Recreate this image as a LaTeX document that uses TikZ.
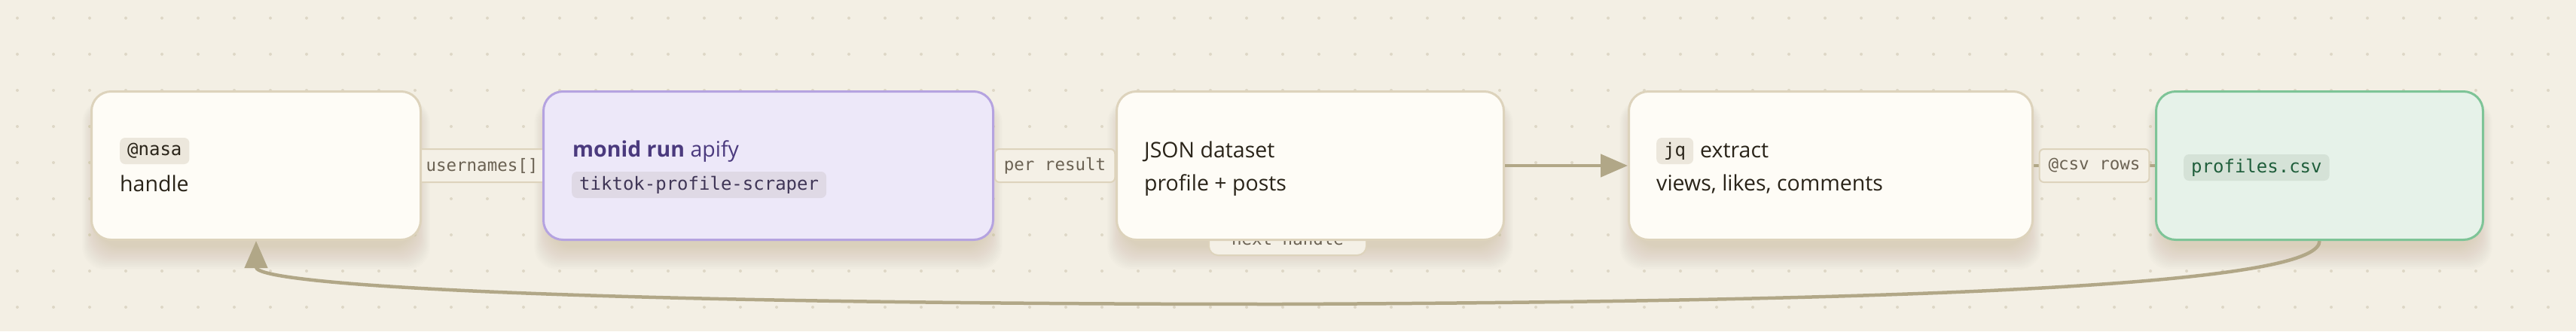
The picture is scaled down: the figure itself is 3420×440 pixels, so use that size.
\documentclass[tikz,border=0pt]{standalone}
\usepackage{fontspec}
\setmainfont{Open Sans}
\setmonofont{DejaVu Sans Mono}
\usetikzlibrary{arrows.meta,calc}
\pgfdeclarelayer{gridlayer}
\pgfdeclarelayer{shadowlayer}
\pgfdeclarelayer{edgelayer}
\pgfsetlayers{gridlayer,shadowlayer,edgelayer,main}
\definecolor{bgc}{HTML}{F3EFE4}
\definecolor{dotc}{HTML}{DED7C6}
\definecolor{cardfill}{HTML}{FEFCF6}
\definecolor{cardline}{HTML}{DDD3BC}
\definecolor{shadowc}{HTML}{6B5A35}
\definecolor{purfill}{HTML}{EDE8F9}
\definecolor{purline}{HTML}{B5A3E0}
\definecolor{purtext}{HTML}{4B3A7E}
\definecolor{purchip}{HTML}{DFD9E5}
\definecolor{purchiptext}{HTML}{3F3556}
\definecolor{grnfill}{HTML}{E6F2E9}
\definecolor{grnline}{HTML}{7EC497}
\definecolor{grnchip}{HTML}{D5E2D7}
\definecolor{grntext}{HTML}{1F5E3B}
\definecolor{creamchip}{HTML}{ECE7DC}
\definecolor{maintext}{HTML}{2A2419}
\definecolor{lbltext}{HTML}{6B6253}
\definecolor{lblfill}{HTML}{F4F0E6}
\definecolor{flowc}{HTML}{B1A787}
\newcommand\cardshadow[1]{%
  \foreach \s in {0,...,19}{%
    \fill[shadowc,opacity=0.0075,rounded corners=30pt]
      ($(#1.north west)+(10-1.1*\s,20-0.4*\s)$) rectangle ($(#1.south east)+(1.1*\s-10,8+1.6*\s)$);
  }}
\begin{document}
\begin{tikzpicture}[x=1pt,y=-1pt,
  card/.style={draw=cardline,fill=cardfill,line width=3pt,rounded corners=26pt,minimum height=197pt,inner sep=0pt},
  purcard/.style={card,draw=purline,fill=purfill},
  grncard/.style={card,draw=grnline,fill=grnfill},
  body/.style={anchor=base west,inner sep=0pt,text=maintext,font=\fontsize{28.5}{33}\selectfont},
  chip/.style={anchor=west,fill=creamchip,rounded corners=7pt,inner xsep=10pt,inner ysep=0pt,minimum height=35pt,text=maintext,font=\fontsize{24}{28}\ttfamily},
  lbl/.style={fill=lblfill,draw=cardline,line width=2pt,rounded corners=6pt,inner xsep=12pt,inner ysep=0pt,minimum height=44pt,text=lbltext,font=\fontsize{22.5}{26}\ttfamily},
  flow/.style={draw=flowc,line width=4.5pt},
  tip/.style={-{Triangle[length=36pt,width=30pt]}}
]
\useasboundingbox (0,0) rectangle (3420,440);
\begin{pgfonlayer}{gridlayer}
\fill[bgc] (0,0) rectangle (3420,440);
\foreach \x in {23,71,...,3420}{\foreach \y in {24,72,...,440}{\fill[dotc] (\x,\y) circle (2pt);}}
\end{pgfonlayer}

% cards
\node[card,minimum width=437pt] (n1) at (340,220) {};
\node[purcard,minimum width=597pt] (n2) at (1020,220) {};
\node[card,minimum width=514pt] (n3) at (1739.5,220) {};
\node[card,minimum width=536pt] (n4) at (2430.5,220) {};
\node[grncard,minimum width=434pt] (n5) at (3079.5,220) {};

\begin{pgfonlayer}{shadowlayer}
\cardshadow{n1}\cardshadow{n2}\cardshadow{n3}\cardshadow{n4}\cardshadow{n5}
\end{pgfonlayer}

% card contents
\node[chip] (c1) at (159,200.5) {@nasa};
\node[body] (t1) at (159,254) {handle};
\node[body,text=purtext] (t2) at (760,208) {\textbf{monid run} apify};
\node[chip,fill=purchip,text=purchiptext] (c2) at (759,245.5) {tiktok-profile-scraper};
\node[body] (t3a) at (1519,209) {JSON dataset};
\node[body] (t3b) at (1519,253) {profile + posts};
\node[chip] (c4) at (2199,200.5) {jq};
\node[body] (t4a) at (2257,209) {extract};
\node[body] (t4b) at (2199,253) {views, likes, comments};
\node[chip,fill=grnchip,text=grntext] (c5) at (2899,222.5) {profiles.csv};

% connectors
\begin{pgfonlayer}{edgelayer}
\draw[flow] (n1) -- node[lbl] (l1) {usernames[]} (n2);
\draw[flow] (n2) -- node[lbl] (l2) {per result} (n3);
\draw[flow] (n4) -- node[lbl] (l4) {@csv rows} (n5);
\draw[flow,tip] (n5.south) .. controls (3080,370) and (2700,400) .. (1700,404)
   .. controls (800,404) and (340,380) .. (n1.south);
\node[lbl,rounded corners=12pt,inner xsep=30pt] (nh) at (1709.5,317) {next handle};
\end{pgfonlayer}
\draw[flow,tip] (n3) -- (n4);
\end{tikzpicture}
\end{document}
